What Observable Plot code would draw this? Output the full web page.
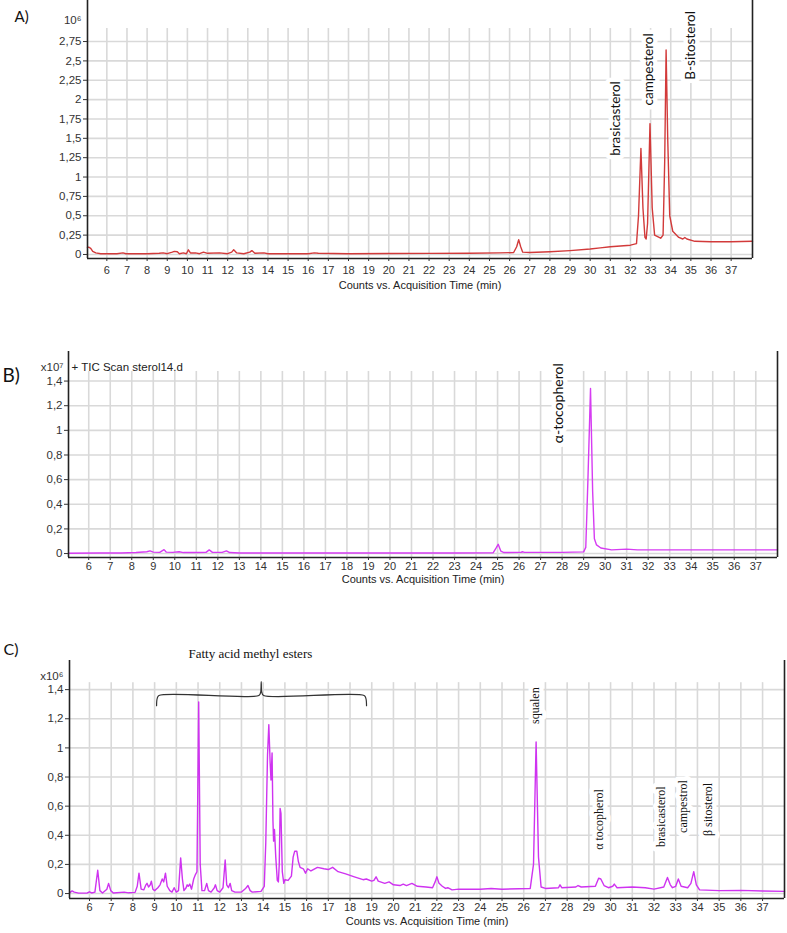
<!DOCTYPE html>
<html>
<head>
<meta charset="utf-8">
<script src="https://cdn.jsdelivr.net/npm/d3@7"></script>
<script src="https://cdn.jsdelivr.net/npm/@observablehq/plot@0.6"></script>
<style>
  body { margin: 0; background: #fff; }
  #chart { width: 787px; background: #fff; }
</style>
</head>
<body>
<div id="chart"></div>
<script>
// ---------- Panel A : sterols (x10^6 counts) ----------
const timeA = [5.04,5.1,5.2,5.3,5.45,5.7,6.5,6.8,6.95,8.0,8.6,8.8,9.0,9.25,9.35,9.5,9.6,9.8,9.95,10.05,10.15,10.4,10.6,10.8,11.0,11.6,12.0,12.2,12.3,12.45,12.8,13.1,13.2,13.35,13.8,14.0,16.0,16.3,16.5,18.0,20.0,22.0,24.0,25.5,26.2,26.35,26.45,26.55,26.65,27.0,28.0,29.0,30.0,30.5,31.0,31.5,32.0,32.3,32.4,32.52,32.62,32.72,32.78,32.85,32.97,33.08,33.2,33.5,33.62,33.7,33.77,33.85,33.95,34.1,34.4,34.6,34.7,34.8,35.2,36.0,37.0,38.06];
const countA = [0.09,0.095,0.08,0.04,0.02,0.01,0.01,0.02,0.01,0.01,0.015,0.02,0.01,0.03,0.04,0.035,0.01,0.02,0.01,0.06,0.02,0.02,0.01,0.03,0.015,0.02,0.01,0.03,0.06,0.02,0.01,0.03,0.05,0.015,0.02,0.01,0.01,0.02,0.015,0.01,0.012,0.014,0.016,0.02,0.025,0.1,0.19,0.1,0.03,0.025,0.035,0.05,0.07,0.085,0.1,0.11,0.12,0.14,0.5,1.37,0.6,0.22,0.2,0.4,1.69,0.6,0.25,0.21,0.25,1.2,2.64,1.5,0.5,0.3,0.22,0.2,0.22,0.2,0.17,0.165,0.165,0.17];
const labelsA = ["brasicasterol","campesterol","B-sitosterol"];
const labelXA = [31.27, 32.91, 34.99];
const labelYA = [1.756, 2.39, 2.70];
const yTicksA = [0,0.25,0.5,0.75,1,1.25,1.5,1.75,2,2.25,2.5,2.75];

// ---------- Panel B : tocopherol (x10^7 counts) ----------
const timeB = [5.06,6.5,7.5,8.2,8.7,8.85,9.0,9.3,9.5,9.6,9.9,10.2,10.4,11.0,11.45,11.6,11.75,12.2,12.4,12.55,13.0,16.0,20.0,23.0,24.8,24.95,25.03,25.15,25.3,26.1,26.15,26.25,28.0,29.0,29.1,29.2,29.32,29.42,29.5,29.6,29.8,30.3,31.0,31.5,33.0,38.01];
const countB = [0.003,0.005,0.004,0.008,0.015,0.022,0.012,0.01,0.032,0.012,0.01,0.015,0.008,0.008,0.01,0.03,0.01,0.01,0.022,0.008,0.004,0.004,0.004,0.005,0.007,0.05,0.075,0.02,0.008,0.01,0.015,0.01,0.01,0.014,0.05,0.6,1.34,0.5,0.12,0.07,0.045,0.03,0.036,0.03,0.03,0.03];
const labelsB = ["α-tocopherol"];
const labelXB = [27.84];
const labelYB = [1.22];
const yTicksB = [0,0.2,0.4,0.6,0.8,1,1.2,1.4];

// ---------- Panel C : full extract (x10^6 counts) ----------
const timeC = [5.08,5.2,5.3,5.5,5.9,6.0,6.1,6.25,6.38,6.48,6.6,6.8,6.88,6.98,7.1,7.6,7.8,8.1,8.2,8.28,8.38,8.5,8.6,8.65,8.72,8.8,8.85,8.92,9.0,9.15,9.25,9.35,9.42,9.5,9.58,9.7,9.8,9.9,10.0,10.1,10.2,10.28,10.35,10.45,10.5,10.55,10.62,10.7,10.8,10.88,10.95,11.03,11.1,11.18,11.3,11.4,11.48,11.6,11.75,11.8,11.88,12.0,12.15,12.25,12.32,12.4,12.48,12.55,12.7,13.0,13.15,13.22,13.3,13.4,13.5,13.9,14.05,14.12,14.2,14.26,14.32,14.36,14.41,14.45,14.48,14.52,14.58,14.65,14.7,14.74,14.78,14.82,14.88,14.95,15.0,15.15,15.3,15.38,15.45,15.55,15.62,15.7,15.85,15.95,16.05,16.2,16.5,16.8,17.0,17.2,17.45,17.8,18.2,18.6,18.75,19.0,19.1,19.2,19.3,19.6,19.8,20.0,20.3,20.45,20.6,20.85,21.1,21.5,21.8,21.92,22.0,22.1,22.25,22.4,22.5,22.7,23.0,24.0,24.5,25.0,26.3,26.45,26.57,26.68,26.8,27.0,27.6,27.67,27.75,28.4,28.5,28.65,29.3,29.45,29.55,29.7,29.9,30.1,30.17,30.3,31.0,31.6,32.0,32.45,32.62,32.75,32.85,33.0,33.12,33.25,33.55,33.7,33.83,33.95,34.1,35.0,36.0,37.0,38.01];
const countC = [0.005,0.018,0.01,0.003,0.004,0.012,0.004,0.01,0.16,0.02,0.004,0.03,0.07,0.02,0.004,0.01,0.005,0.008,0.05,0.14,0.03,0.025,0.06,0.07,0.045,0.06,0.085,0.03,0.02,0.04,0.06,0.1,0.08,0.14,0.05,0.02,0.01,0.04,0.01,0.02,0.245,0.1,0.02,0.04,0.06,0.05,0.065,0.03,0.1,0.13,0.15,1.315,0.2,0.02,0.02,0.07,0.02,0.01,0.04,0.06,0.02,0.01,0.04,0.23,0.06,0.04,0.07,0.02,0.01,0.01,0.03,0.04,0.055,0.02,0.01,0.015,0.05,0.35,0.95,1.16,0.9,0.78,0.965,0.5,0.36,0.44,0.25,0.09,0.08,0.2,0.585,0.55,0.15,0.07,0.095,0.09,0.12,0.25,0.29,0.29,0.22,0.18,0.17,0.14,0.17,0.155,0.18,0.17,0.165,0.18,0.15,0.135,0.115,0.095,0.1,0.085,0.09,0.115,0.085,0.07,0.08,0.06,0.055,0.065,0.055,0.07,0.05,0.045,0.04,0.08,0.115,0.07,0.05,0.035,0.04,0.025,0.03,0.03,0.035,0.03,0.035,0.2,1.04,0.25,0.045,0.035,0.04,0.06,0.04,0.045,0.055,0.045,0.05,0.105,0.1,0.055,0.04,0.05,0.065,0.04,0.045,0.04,0.03,0.045,0.11,0.06,0.04,0.05,0.1,0.05,0.04,0.07,0.15,0.06,0.025,0.02,0.022,0.018,0.015];
const labelsC = ["squalen","α tocopherol","brasicasterol","campestrol","β sitosterol"];
const labelXC = [26.54, 29.48, 32.34, 33.35, 34.5];
const labelYC = [1.29, 0.508, 0.528, 0.597, 0.577];
const yTicksC = [0,0.2,0.4,0.6,0.8,1,1.2,1.4];
const groupLabelC = "Fatty acid methyl esters";
const braceX = [9.09,9.12,9.2,13.8,13.88,13.91,13.94,14.02,18.65,18.73,18.76];
const braceY = [1.29,1.34,1.36,1.36,1.38,1.455,1.38,1.36,1.36,1.34,1.29];

const xTicks = d3.range(6, 38);
const xTitle = "Counts vs. Acquisition Time (min)";
const GRID = "#d9d9d9";
const AXIS = "#222";
const fmt = d => String(d).replace(".", ",");

function panel(o) {
  const rows = o.times.map((t, i) => ({t, c: o.counts[i]}));
  const labs = o.labels.map((s, i) => ({s, x: o.labelX[i], y: o.labelY[i]}));
  return Plot.plot({
    width: 787,
    height: o.height,
    marginTop: o.mt, marginBottom: o.mb, marginLeft: o.ml, marginRight: o.mr,
    style: {fontFamily: "'Liberation Sans', Arial, sans-serif", fontSize: "11px", color: "#333", background: "#fff"},
    x: {domain: o.xDomain},
    y: {domain: o.yDomain},
    marks: [
      Plot.ruleY(o.yTicks, {stroke: GRID, strokeWidth: 1.6}),
      Plot.ruleX(xTicks, {y1: o.gridTop, y2: o.yDomain[0], stroke: GRID, strokeWidth: 1.6}),
      Plot.text(labs, {x: "x", y: "y", text: "s", rotate: -90, fontSize: o.labelSize, fontFamily: o.labelFont, fill: "#111", stroke: "white", strokeWidth: 9}),
      ...(o.extra || []),
      Plot.line(rows, {x: "t", y: "c", stroke: o.color, strokeWidth: 1.4}),
      Plot.ruleX(o.xDomain, {stroke: AXIS, strokeWidth: 1.6}),
      Plot.ruleY([o.yDomain[0]], {stroke: AXIS, strokeWidth: 1.6}),
      Plot.axisX({ticks: xTicks, tickSize: 3, tickPadding: o.xPad, tickFormat: d => d, label: null, fontSize: 11}),
      Plot.axisY({ticks: o.yTicks, tickSize: 4, tickPadding: 2, tickFormat: fmt, label: null, fontSize: 11.5}),
      Plot.text([xTitle], {frameAnchor: "bottom", dy: o.titleDy, fontSize: 11, fill: "#222"}),
      Plot.text([o.letter], {frameAnchor: "top-left", dx: o.letterDx, dy: o.letterDy, textAnchor: "start", fontSize: o.letterSize, fontFamily: "Lato, 'Open Sans', sans-serif", fill: "#111"}),
      Plot.text([o.expo], {frameAnchor: "top-left", dx: o.expoDx, dy: o.expoDy, textAnchor: "end", fontSize: 11.5, fill: "#333"})
    ]
  });
}

const root = document.getElementById("chart");

root.append(panel({
  times: timeA, counts: countA, color: "#d23a3a",
  height: 300, mt: 0, mb: 42, ml: 87, mr: 35,
  xDomain: [5.04, 38.06], yDomain: [-0.052, 3.28], yTicks: yTicksA, gridTop: 2.918,
  labels: labelsA, labelX: labelXA, labelY: labelYA, labelSize: 13.5, labelFont: "Lato, 'Open Sans', sans-serif",
  xPad: 5, titleDy: 30,
  letter: "A)", letterDx: -73, letterDy: 11, letterSize: 15,
  expo: "10⁶", expoDx: -6, expoDy: 15
}));

root.append(panel({
  times: timeB, counts: countB, color: "#d63cf2",
  height: 300, mt: 51, mb: 43, ml: 68, mr: 10,
  xDomain: [5.06, 38.01], yDomain: [-0.032, 1.64], yTicks: yTicksB, gridTop: 1.478,
  labels: labelsB, labelX: labelXB, labelY: labelYB, labelSize: 14, labelFont: "Lato, 'Open Sans', sans-serif",
  xPad: 2, titleDy: 25,
  letter: "B)", letterDx: -66, letterDy: 17, letterSize: 19,
  expo: "x10⁷", expoDx: -5, expoDy: 11,
  extra: [Plot.text(["+ TIC Scan sterol14.d"], {frameAnchor: "top-left", dx: 3, dy: 11, textAnchor: "start", fontSize: 11.5, fill: "#222"})]
}));

root.append(panel({
  times: timeC, counts: countC, color: "#cf33f0",
  height: 333, mt: 60, mb: 35, ml: 69, mr: 3,
  xDomain: [5.08, 38.01], yDomain: [-0.034, 1.60], yTicks: yTicksC, gridTop: 1.448,
  labels: labelsC, labelX: labelXC, labelY: labelYC, labelSize: 12, labelFont: "'Liberation Serif', 'Times New Roman', serif",
  xPad: 2, titleDy: 26,
  letter: "C)", letterDx: -66, letterDy: -17, letterSize: 16,
  expo: "x10⁶", expoDx: -6, expoDy: 11,
  extra: [
    Plot.line(braceX.map((x, i) => ({x, y: braceY[i]})), {x: "x", y: "y", stroke: "#333", strokeWidth: 1.2, curve: "catmull-rom"}),
    Plot.text([groupLabelC], {x: [13.41], y: [1.647], fontSize: 13, fontFamily: "'Liberation Serif', 'Times New Roman', serif", fill: "#111"})
  ]
}));
</script>
</body>
</html>
